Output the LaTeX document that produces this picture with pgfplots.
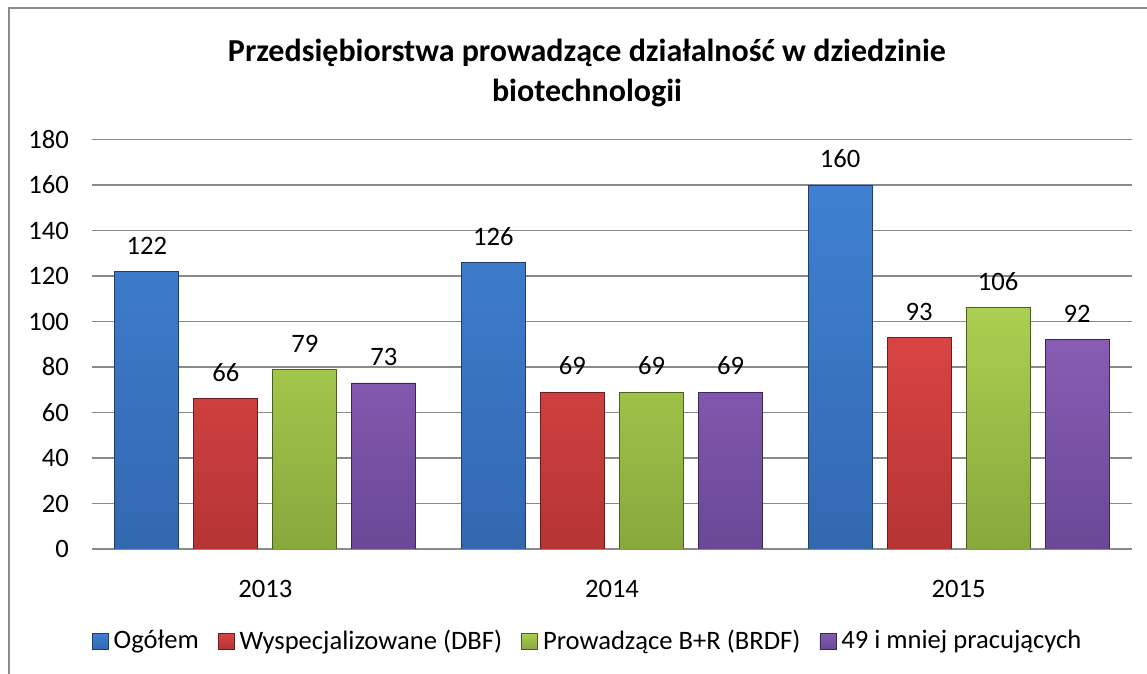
\documentclass[border=0pt]{standalone}
\usepackage{pgfplots}
\pgfplotsset{compat=1.18}
\usepackage{fontspec}
\setmainfont{Carlito}
\definecolor{gridc}{HTML}{8A8A8A}
\definecolor{blueT}{HTML}{3F80D2}\definecolor{blueB}{HTML}{3368B0}\definecolor{blueD}{HTML}{1F3F6A}
\definecolor{redT}{HTML}{D84444}\definecolor{redB}{HTML}{B53434}\definecolor{redD}{HTML}{6A1E1E}
\definecolor{greenT}{HTML}{ABCF50}\definecolor{greenB}{HTML}{88A83C}\definecolor{greenD}{HTML}{4A5E20}
\definecolor{purpT}{HTML}{875CB4}\definecolor{purpB}{HTML}{6A4896}\definecolor{purpD}{HTML}{3A2858}
\begin{document}
\begin{tikzpicture}
\path[use as bounding box] (0,0) rectangle (573.5pt,337pt);
\draw[gridc, line width=1pt] (4.5pt,0) -- (4.5pt,333pt) -- (573.5pt,333pt);
\node[font=\fontsize{16}{20}\selectfont\bfseries, align=center] at (293.5pt,300.5pt)
  {Przedsiębiorstwa prowadzące działalność w dziedzinie\\biotechnologii};
\begin{axis}[
  at={(46pt,62.5pt)}, anchor=south west,
  scale only axis, width=520pt, height=204.75pt,
  xmin=-0.5, xmax=2.5, ymin=0, ymax=180,
  ytick={0,20,...,180},
  xtick={0,1,2}, xticklabels={2013,2014,2015},
  /pgf/number format/assume math mode=true,
  font=\fontsize{13.3}{16}\selectfont,
  axis line style={draw=none},
  tick style={draw=none},
  ymajorgrids, grid style={gridc, line width=0.75pt},
  yticklabel style={anchor=east, xshift=-8pt},
  xticklabel style={anchor=center, yshift=-15.5pt},
  ybar, bar width=0.1846,
  nodes near coords,
  every node near coord/.append style={anchor=south, yshift=5pt, font=\fontsize{13.3}{16}\selectfont},
  legend columns=4,
  legend style={at={(0.478,-0.2247)}, anchor=center, draw=none,
    font=\fontsize{13.3}{16}\selectfont,
    /tikz/every even column/.append style={column sep=7pt},
    nodes={inner xsep=2.5pt, inner ysep=1.5pt}},
  legend image code/.code={\draw[#1, line width=0.4pt] (0pt,-4pt) rectangle (8pt,4pt);},
]
\addplot[bar shift=-0.342, draw=blueD, top color=blueT, bottom color=blueB] coordinates {(0,122) (1,126) (2,160)};
\addplot[bar shift=-0.114, draw=redD, top color=redT, bottom color=redB] coordinates {(0,66) (1,69) (2,93)};
\addplot[bar shift=0.114, draw=greenD, top color=greenT, bottom color=greenB] coordinates {(0,79) (1,69) (2,106)};
\addplot[bar shift=0.342, draw=purpD, top color=purpT, bottom color=purpB] coordinates {(0,73) (1,69) (2,92)};
\legend{Ogółem, Wyspecjalizowane (DBF), Prowadzące B+R (BRDF), 49 i mniej pracujących}
\end{axis}
\end{tikzpicture}
\end{document}
